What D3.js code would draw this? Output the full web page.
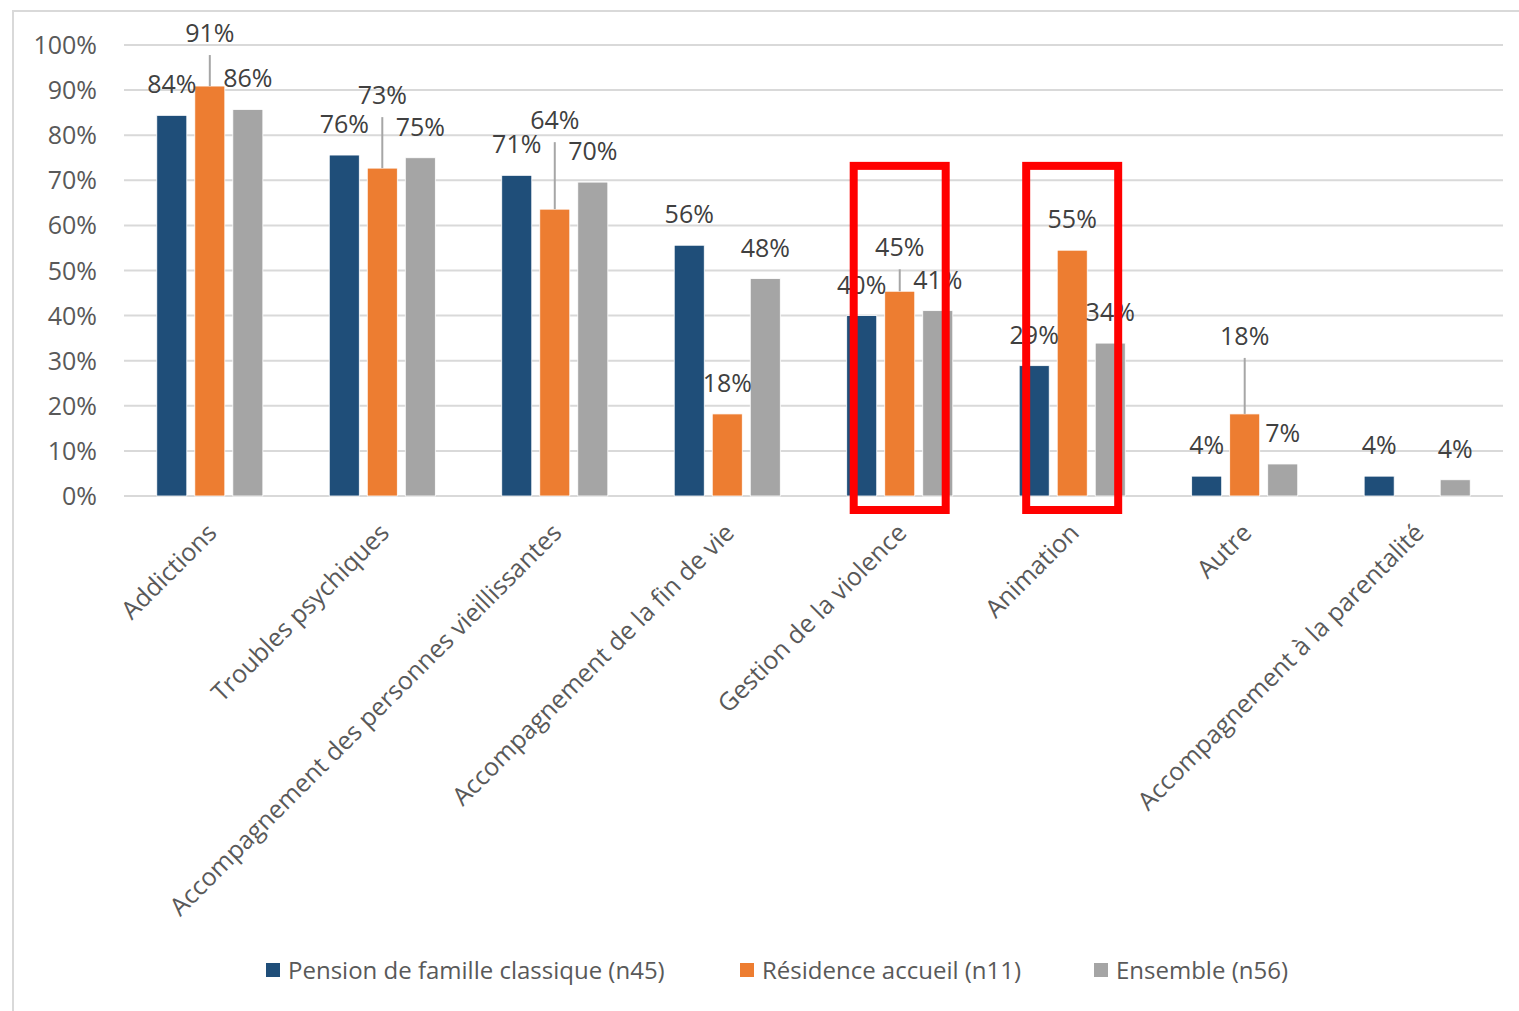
<!DOCTYPE html>
<html>
<head>
<meta charset="utf-8">
<script src="https://cdn.jsdelivr.net/npm/d3@7"></script>
<style>
  body { margin: 0; background: #fff; }
  text { font-family: "Open Sans", sans-serif; }
</style>
</head>
<body>
<div id="chart"></div>
<script>
// data (percent)
var categories = ["Addictions", "Troubles psychiques", "Accompagnement des personnes vieillissantes",
  "Accompagnement de la fin de vie", "Gestion de la violence", "Animation", "Autre",
  "Accompagnement à la parentalité"];
var seriesNames = ["Pension de famille classique (n45)", "Résidence accueil (n11)", "Ensemble (n56)"];
var pension = [84.4, 75.6, 71.1, 55.6, 40.0, 28.9, 4.4, 4.4];
var residence = [90.9, 72.7, 63.6, 18.2, 45.4, 54.5, 18.2, 0];
var ensemble = [85.7, 75.0, 69.6, 48.2, 41.1, 33.9, 7.1, 3.6];
var yTicks = [0, 10, 20, 30, 40, 50, 60, 70, 80, 90, 100];
var highlighted = ["Gestion de la violence", "Animation"];

// layout: extra lift (px) for the moved orange labels, which get a leader line
var residenceLabelLift = [22, 42, 58, 0, 13, 0, 47, 0];

var colors = ["#1f4e79", "#ed7d31", "#a5a5a5"];

// set the dimensions and margins of the graph
var W = 1519, H = 1011;
var margin = {top: 45, right: 16, bottom: 515, left: 124};
var width = W - margin.left - margin.right;
var height = H - margin.top - margin.bottom;

var svg = d3.select("#chart").append("svg")
  .attr("width", W).attr("height", H);

// outer frame of the chart object
svg.append("rect")
  .attr("x", 13).attr("y", 11).attr("width", W + 20).attr("height", H + 20)
  .attr("fill", "none").attr("stroke", "#d9d9d9").attr("stroke-width", 2);

var g = svg.append("g")
  .attr("transform", "translate(" + margin.left + "," + margin.top + ")");

var x = d3.scaleBand().domain(categories).range([0, width]).paddingInner(0.385).paddingOuter(0.19);
var xSub = d3.scaleBand().domain([0, 1, 2]).range([0, x.bandwidth()]).paddingInner(0.21);
var y = d3.scaleLinear().domain([0, 100]).range([height, 0]);

// gridlines + y tick labels
g.append("g").selectAll("line").data(yTicks).enter().append("line")
  .attr("x1", 0).attr("x2", width)
  .attr("y1", function(d) { return y(d); }).attr("y2", function(d) { return y(d); })
  .attr("stroke", "#d9d9d9").attr("stroke-width", 2);

g.append("g").selectAll("text").data(yTicks).enter().append("text")
  .attr("x", -27).attr("y", function(d) { return y(d); })
  .attr("dy", "0.36em").attr("text-anchor", "end")
  .attr("font-size", 25).attr("fill", "#595959")
  .text(function(d) { return d + "%"; });

// bars
var series = [pension, residence, ensemble];
var rows = [];
series.forEach(function(vals, s) {
  vals.forEach(function(v, i) {
    rows.push({s: s, cat: categories[i], i: i, value: v});
  });
});

var bx = function(d) { return x(d.cat) + xSub(d.s); };

g.append("g").selectAll("rect").data(rows.filter(function(d) { return d.value > 0; }))
  .enter().append("rect")
  .attr("x", bx)
  .attr("y", function(d) { return y(d.value); })
  .attr("width", xSub.bandwidth())
  .attr("height", function(d) { return height - y(d.value); })
  .attr("fill", function(d) { return colors[d.s]; })
  .attr("stroke", "#fff").attr("stroke-width", 0.8);

// data labels (+ leader lines for the moved ones)
var labelled = rows.filter(function(d) { return d.value > 0; });
labelled.forEach(function(d) {
  d.lift = d.s === 1 ? residenceLabelLift[d.i] : 0;
  d.cx = bx(d) + xSub.bandwidth() / 2;
  d.cy = y(d.value) - 31 - d.lift;
});

g.append("g").selectAll("line").data(labelled.filter(function(d) { return d.lift > 0; }))
  .enter().append("line")
  .attr("x1", function(d) { return d.cx; }).attr("x2", function(d) { return d.cx; })
  .attr("y1", function(d) { return d.cy + 22; })
  .attr("y2", function(d) { return y(d.value); })
  .attr("stroke", "#a6a6a6").attr("stroke-width", 2);

g.append("g").selectAll("text").data(labelled).enter().append("text")
  .attr("x", function(d) { return d.cx; })
  .attr("y", function(d) { return d.cy; })
  .attr("dy", "0.36em").attr("text-anchor", "middle")
  .attr("font-size", 25).attr("fill", "#404040")
  .text(function(d) { return Math.round(d.value) + "%"; });

// category labels, rotated
g.append("g").selectAll("text").data(categories).enter().append("text")
  .attr("transform", function(d) {
    return "translate(" + (x(d) + x.bandwidth() / 2 + 2) + "," + (height + 32) + ") rotate(-45)";
  })
  .attr("text-anchor", "end").attr("dy", "0.36em")
  .attr("font-size", 25).attr("fill", "#595959")
  .text(function(d) { return d; });

// red boxes on the highlighted groups
g.append("g").selectAll("rect").data(highlighted).enter().append("rect")
  .attr("x", function(d) { return x(d) + 7; })
  .attr("y", y(73.2))
  .attr("width", 92)
  .attr("height", y(0) + 14 - y(73.2))
  .attr("fill", "none").attr("stroke", "#ff0000").attr("stroke-width", 8);

// legend
var legendX = [266, 740, 1094];
var legend = svg.append("g").selectAll("g").data(seriesNames).enter().append("g")
  .attr("transform", function(d, i) { return "translate(" + legendX[i] + ",970)"; });
legend.append("rect")
  .attr("x", 0).attr("y", -7).attr("width", 14).attr("height", 14)
  .attr("fill", function(d, i) { return colors[i]; });
legend.append("text")
  .attr("x", 22).attr("dy", "0.36em")
  .attr("font-size", 24).attr("fill", "#595959")
  .text(function(d) { return d; });
</script>
</body>
</html>
